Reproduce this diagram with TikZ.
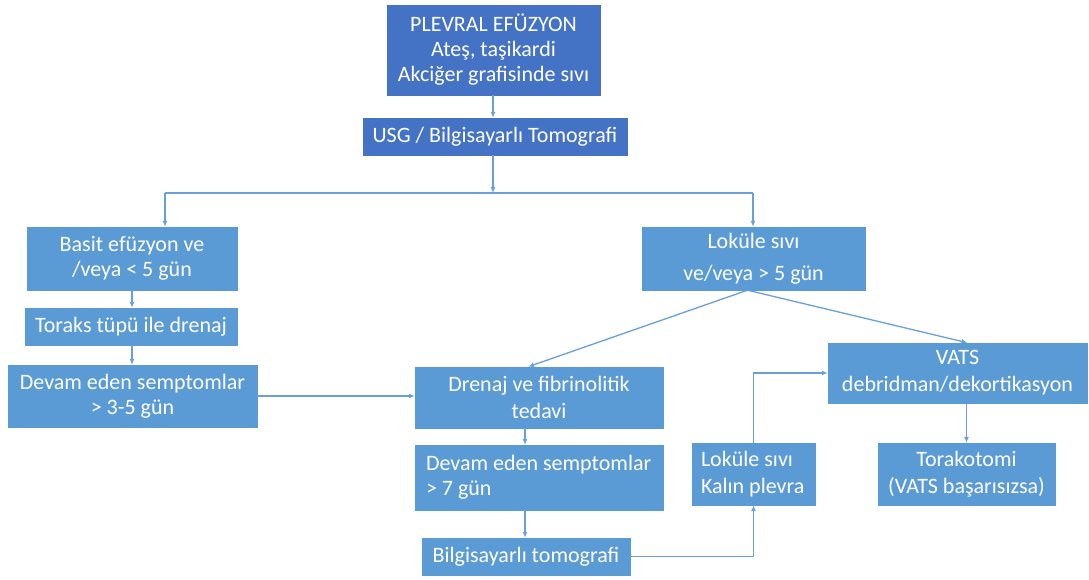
\documentclass[tikz,border=0pt]{standalone}
\usepackage{fontspec}
\setmainfont{Carlito}
\usetikzlibrary{arrows.meta}
\definecolor{darkbox}{HTML}{4472C4}
\definecolor{lightbox}{HTML}{5B9BD5}
\definecolor{linecol}{HTML}{6A9FD8}
\tikzset{
  box/.style={fill=lightbox, draw=lightbox, text=white, inner sep=0pt, align=center,
    font=\fontsize{22}{25}\selectfont},
  dbox/.style={box, fill=darkbox, draw=darkbox},
  ln/.style={draw=linecol, line width=1.3pt},
  arr/.style={ln, -{Latex[length=6pt,width=5pt]}}
}
\begin{document}
\begin{tikzpicture}[x=1pt,y=-1pt]
\useasboundingbox (0,0) rectangle (1089,580);
\node[dbox, minimum width=213, minimum height=90] (top) at (493.5,50)
  {PLEVRAL EFÜZYON\\Ateş, taşikardi\\Akciğer grafisinde sıvı};
\node[dbox, minimum width=264, minimum height=37] (usg) at (495,136.5)
  {USG / Bilgisayarlı Tomografi};
\node[box, minimum width=210, minimum height=63] (basit) at (132,258.5)
  {Basit efüzyon ve\\/veya < 5 gün};
\node[box, minimum width=212, minimum height=37] (toraks) at (131,326.5)
  {Toraks tüpü ile drenaj};
\node[box, minimum width=249, minimum height=62] (devam1) at (132.5,396)
  {Devam eden semptomlar\\> 3-5 gün};
\node[box, minimum width=223, minimum height=63, font=\fontsize{22}{32}\selectfont] (lokule) at (753.5,258.5)
  {Loküle sıvı\\ve/veya > 5 gün};
\node[box, minimum width=248, minimum height=61, font=\fontsize{22}{27}\selectfont] (drenaj) at (539,397.5)
  {Drenaj ve fibrinolitik\\tedavi};
\node[box, minimum width=248, minimum height=65, text width=226, align=flush left] (devam2) at (539,477.5)
  {Devam eden semptomlar\\> 7 gün};
\node[box, minimum width=123, minimum height=62, text width=105, align=flush left, font=\fontsize{22}{27}\selectfont] (kalin) at (753.5,474)
  {Loküle sıvı\\Kalın plevra};
\node[box, minimum width=208, minimum height=37] (bt) at (526,556.5)
  {Bilgisayarlı tomografi};
\node[box, minimum width=259, minimum height=60, font=\fontsize{22}{27}\selectfont] (vats) at (957.5,373)
  {VATS\\debridman/dekortikasyon};
\node[box, minimum width=177, minimum height=62, font=\fontsize{22}{27}\selectfont] (torako) at (966.5,474)
  {Torakotomi\\(VATS başarısızsa)};

\coordinate (split) at (493,193);
\coordinate (lt) at (165,193);
\coordinate (rt) at (753,193);

\draw[arr] (top.south -| split) -- (usg.north -| split);
\draw[arr] (usg.south -| split) -- (split);
\draw[ln] (lt) -- (rt);
\draw[arr] (lt) -- (lt |- basit.north);
\draw[arr] (rt) -- (rt |- lokule.north);
\draw[arr] (basit.south) -- (basit.south |- toraks.north);
\draw[arr] (basit.south |- toraks.south) -- (basit.south |- devam1.north);
\draw[arr] (devam1.east) -- (devam1.east -| drenaj.west);
\draw[arr] ([xshift=-6]lokule.south) -- ([xshift=-11]drenaj.north);
\draw[arr] ([xshift=-6]lokule.south) -- ([xshift=10]vats.north);
\draw[arr] ([xshift=-14]drenaj.south) -- ([xshift=-14]drenaj.south |- devam2.north);
\draw[arr] ([xshift=-14]devam2.south) -- ([xshift=-14]devam2.south |- bt.north);
\draw[arr] (bt.east) -| (kalin.south);
\draw[arr] (kalin.north) |- (vats.west);
\draw[arr] (torako.north |- vats.south) -- (torako.north);
\end{tikzpicture}
\end{document}
